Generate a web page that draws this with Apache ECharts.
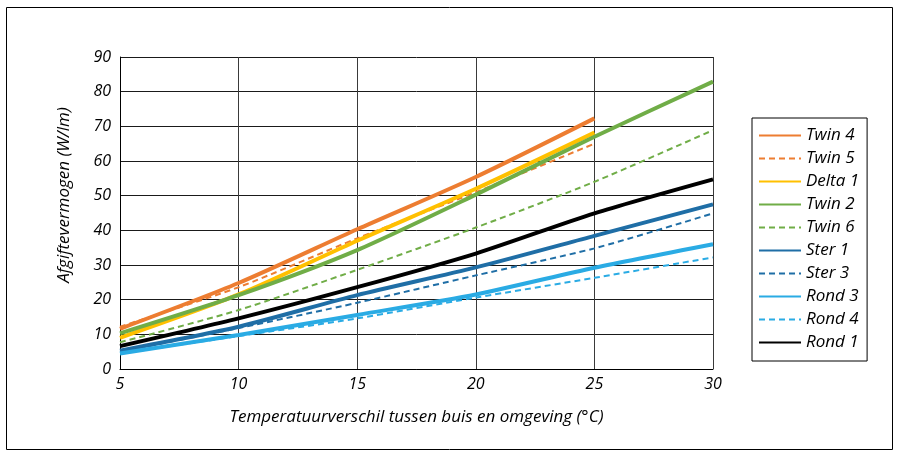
<!DOCTYPE html>
<html>
<head>
<meta charset="utf-8">
<script src="https://cdn.jsdelivr.net/npm/echarts@6/dist/echarts.min.js"></script>
<style>
  html, body { margin: 0; padding: 0; background: #fff; }
  #chart { width: 900px; height: 457px; }
</style>
</head>
<body>
<div id="chart"></div>
<script>
// temperature difference (°C)
const xValues = [5, 10, 15, 20, 25, 30]

const twin4 = [11.6, 24.8, 40.3, 55.4, 72.3]
const twin5 = [12.2, 23.6, 37.7, 51.0, 65.0]
const delta1 = [9.0, 21.5, 37.0, 52.0, 68.2]
const twin2 = [10.3, 21.3, 34.3, 50.3, 67.0, 82.9]
const twin6 = [7.7, 17.0, 28.6, 40.8, 54.0, 68.9]
const ster1 = [5.3, 12.2, 21.3, 29.3, 38.4, 47.5]
const ster3 = [5.0, 11.8, 19.1, 27.0, 34.8, 44.9]
const rond3 = [4.5, 9.8, 15.6, 21.5, 29.2, 36.0]
const rond4 = [4.5, 9.5, 14.6, 20.6, 26.3, 32.2]
const rond1 = [6.6, 14.6, 23.6, 33.3, 44.9, 54.7]

const FONT = 'Open Sans'

function pairs(values) {
  return values.map((v, i) => [xValues[i], v])
}

function line(name, values, color, dashed) {
  return {
    name,
    type: 'line',
    data: pairs(values),
    smooth: 0.25,
    symbol: 'none',
    lineStyle: {
      color,
      width: dashed ? 2 : 4,
      type: dashed ? [6, 4] : 'solid'
    },
    itemStyle: { color }
  }
}

const tickStyle = { fontFamily: FONT, fontStyle: 'italic', fontSize: 16, color: '#000' }
const nameStyle = { fontFamily: FONT, fontStyle: 'italic', fontSize: 17, color: '#000' }

const chart = echarts.init(document.getElementById('chart'))

chart.setOption({
  animation: false,
  textStyle: { fontFamily: FONT },
  graphic: [{
    type: 'rect',
    shape: { x: 6.5, y: 7.5, width: 886, height: 442 },
    style: { fill: 'none', stroke: '#000', lineWidth: 1 },
    silent: true
  }],
  grid: { left: 120, right: 187, top: 57, bottom: 88 },
  legend: {
    orient: 'vertical',
    left: 752,
    top: 118,
    padding: [9, 8, 10, 6],
    itemWidth: 42,
    itemHeight: 14,
    itemGap: 6,
    borderColor: '#000',
    borderWidth: 1,
    itemStyle: { opacity: 0 },
    textStyle: nameStyle,
    data: ['Twin 4', 'Twin 5', 'Delta 1', 'Twin 2', 'Twin 6', 'Ster 1', 'Ster 3', 'Rond 3', 'Rond 4', 'Rond 1']
  },
  xAxis: {
    type: 'value',
    min: 5,
    max: 30,
    interval: 5,
    name: 'Temperatuurverschil tussen buis en omgeving (°C)',
    nameLocation: 'middle',
    nameGap: 40,
    nameTextStyle: nameStyle,
    axisLine: { lineStyle: { color: '#000', width: 1 } },
    axisTick: { show: false },
    axisLabel: Object.assign({ margin: 7 }, tickStyle),
    splitLine: { show: true, lineStyle: { color: '#3a3a3a', width: 1 } }
  },
  yAxis: {
    type: 'value',
    min: 0,
    max: 90,
    interval: 10,
    name: 'Afgiftevermogen (W/lm)',
    nameLocation: 'middle',
    nameGap: 47,
    nameRotate: 90,
    nameTextStyle: Object.assign({ padding: [0, 0, 0, 36] }, nameStyle),
    axisLine: { show: true, lineStyle: { color: '#000', width: 1 } },
    axisTick: { show: false },
    axisLabel: Object.assign({ margin: 9 }, tickStyle),
    splitLine: { show: true, lineStyle: { color: '#1a1a1a', width: 1 } }
  },
  series: [
    line('Twin 4', twin4, '#ED7D31', false),
    line('Twin 5', twin5, '#ED7D31', true),
    line('Delta 1', delta1, '#FFC000', false),
    line('Twin 2', twin2, '#70AD47', false),
    line('Twin 6', twin6, '#70AD47', true),
    line('Ster 1', ster1, '#1F6EA6', false),
    line('Ster 3', ster3, '#1F6EA6', true),
    line('Rond 3', rond3, '#2AABE4', false),
    line('Rond 4', rond4, '#2AABE4', true),
    line('Rond 1', rond1, '#000000', false)
  ]
})
</script>
</body>
</html>
